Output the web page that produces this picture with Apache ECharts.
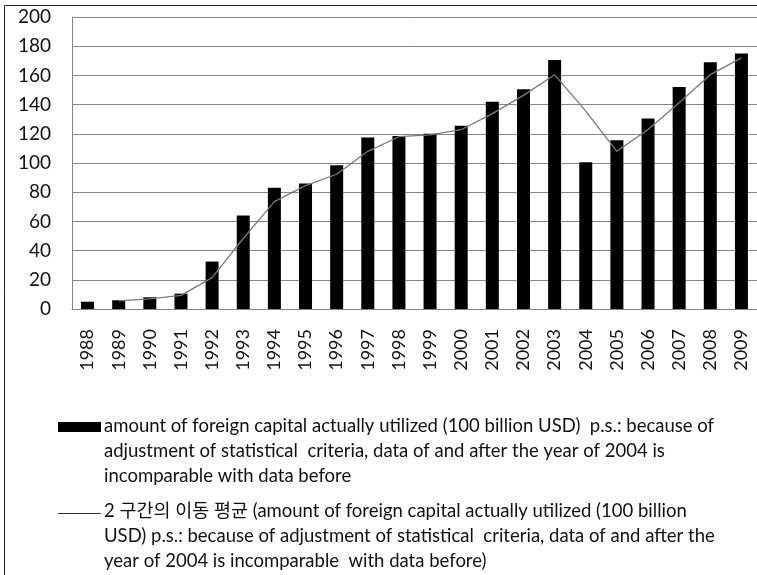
<!DOCTYPE html>
<html>
<head>
<meta charset="utf-8">
<script src="https://cdn.jsdelivr.net/npm/echarts@6/dist/echarts.min.js"></script>
<style>
  html, body { margin: 0; padding: 0; background: #fff; }
  #chart { width: 757px; height: 575px; }
</style>
</head>
<body>
<div id="chart"></div>
<script>
// years on the category axis
var years = ["1988", "1989", "1990", "1991", "1992", "1993", "1994", "1995", "1996", "1997", "1998",
  "1999", "2000", "2001", "2002", "2003", "2004", "2005", "2006", "2007", "2008", "2009"];
// amount of foreign capital actually utilized
var amount = [5, 6, 8, 10.5, 32.5, 64, 83, 86, 98.5, 117.5, 118.5,
  120, 125.5, 142, 150.5, 170.5, 100.5, 115.5, 130.5, 152, 169, 175];
// 2-period moving average
var movingAvg = [null, 5.5, 7, 9.3, 21.5, 48.3, 73.5, 84.5, 92.3, 108, 118,
  119.3, 122.8, 133.8, 146.3, 160.5, 135.5, 108, 123, 141.3, 160.5, 172];
var yTicks = { min: 0, max: 200, interval: 20 };

var legendBar = ["amount of foreign capital actually utilized (100 billion USD)  p.s.: because of",
  "adjustment of statistical  criteria, data of and after the year of 2004 is",
  "incomparable with data before"];
var legendLine = ["2 구간의 이동 평균 (amount of foreign capital actually utilized (100 billion",
  "USD) p.s.: because of adjustment of statistical  criteria, data of and after the",
  "year of 2004 is incomparable  with data before)"];

var font = "Lato, 'Noto Sans CJK KR', sans-serif";

var chart = echarts.init(document.getElementById("chart"));
chart.setOption({
  animation: false,
  backgroundColor: "#fff",
  grid: { left: 72, top: 17, right: -8, bottom: 266 },
  xAxis: {
    type: "category",
    data: years,
    axisLine: { show: true, lineStyle: { color: "#868686" } },
    axisTick: { show: false },
    axisLabel: {
      rotate: 90, margin: 20, color: "#111", fontSize: 18, fontFamily: font, interval: 0
    }
  },
  yAxis: {
    type: "value",
    min: yTicks.min, max: yTicks.max, interval: yTicks.interval,
    axisLine: { show: true, lineStyle: { color: "#868686" } },
    axisTick: { show: false },
    axisLabel: { margin: 21, color: "#111", fontSize: 19, fontFamily: font },
    splitLine: { lineStyle: { color: "#868686", width: 1 } }
  },
  series: [
    {
      name: "amount",
      type: "bar",
      data: amount,
      barWidth: 13,
      itemStyle: { color: "#000" }
    },
    {
      name: "moving average",
      type: "line",
      data: movingAvg,
      showSymbol: false,
      symbol: "none",
      lineStyle: { color: "#7a7a7a", width: 1.3 }
    }
  ],
  graphic: [
    // outer chart border
    { type: "rect", shape: { x: 4.5, y: 5.5, width: 800, height: 600 },
      style: { fill: null, stroke: "#222", lineWidth: 1 }, silent: true },
    // legend: bar
    { type: "rect", shape: { x: 58, y: 422, width: 43, height: 10 }, style: { fill: "#000" } },
    { type: "text", left: 104, top: 414,
      style: { text: legendBar.join("\n"), font: "18.5px " + font, lineHeight: 25, fill: "#111" } },
    // legend: line
    { type: "line", shape: { x1: 58, y1: 513.5, x2: 101, y2: 513.5 }, style: { stroke: "#333", lineWidth: 1 } },
    { type: "text", left: 104, top: 499,
      style: { text: legendLine.join("\n"), font: "18.5px " + font, lineHeight: 25, fill: "#111" } }
  ]
});
</script>
</body>
</html>
